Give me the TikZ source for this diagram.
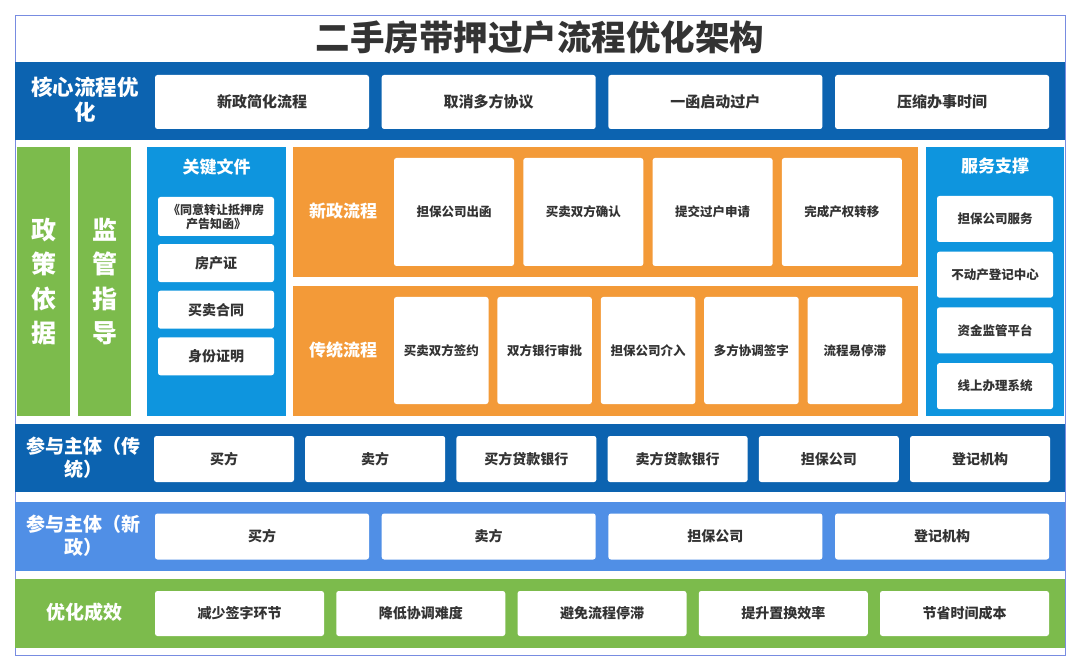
\documentclass[tikz,border=0pt]{standalone}
\usepackage{fontspec}
\setmainfont{Noto Sans CJK SC}
\usetikzlibrary{positioning}
\definecolor{deepblue}{RGB}{12,99,176}
\definecolor{skyblue}{RGB}{14,149,222}
\definecolor{newblue}{RGB}{80,143,230}
\definecolor{flowor}{RGB}{243,154,56}
\definecolor{leafgr}{RGB}{124,187,76}
\definecolor{rimblue}{RGB}{120,140,225}
\definecolor{ink}{RGB}{51,51,51}

\begin{document}
\begin{tikzpicture}[x=1pt, y=-1pt,
        band/.style={fill=#1, inner sep=0pt, outer sep=0pt},
        card/.style={fill=white, rounded corners=2.5pt, text=ink, inner sep=1pt, align=center,
                     font=\bfseries\fontsize{14}{17}\selectfont},
        lbl/.style={text=white, align=center, font=\bfseries\fontsize{19}{23}\selectfont},
        vlbl/.style={text=white, align=center, font=\bfseries\fontsize{25}{34.5}\selectfont},
        head/.style={text=white, font=\bfseries\fontsize{17}{20}\selectfont}]

    \useasboundingbox (0,0) rectangle (1080,671);
    \node[draw=rimblue, line width=0.8pt, minimum width=1050, minimum height=640, inner sep=0pt] (frame) at (540,335) {};
    \node[text=ink, font=\bfseries\fontsize{34.5}{40}\selectfont] (title) at (540,37.5) {二手房带押过户流程优化架构};

    % core row
    \node[band=deepblue, minimum width=1050, minimum height=78] (coreband) at (540,101) {};
    \node[lbl, font=\bfseries\fontsize{21.5}{25}\selectfont] (corelbl) at (85,100) {核心流程优\\化};
    \foreach \t [count=\i from 0] in {新政简化流程,取消多方协议,一函启动过户,压缩办事时间}
        \node[card, minimum width=214, minimum height=54, font=\bfseries\fontsize{15}{18}\selectfont] (core\i) at (262+226.7*\i,102) {\t};

    % middle part
    \node[band=leafgr, minimum width=53, minimum height=269] (policy) at (43.5,281.5) {};
    \node[vlbl] (policylbl) at (policy) {政\\策\\依\\据};
    \node[band=leafgr, minimum width=53, minimum height=269] (superv) at (104.5,281.5) {};
    \node[vlbl] (supervlbl) at (superv) {监\\管\\指\\导};

    \node[band=skyblue, minimum width=139, minimum height=269] (docs) at (216.5,281.5) {};
    \node[head] (docslbl) at (216.5,167) {关键文件};
    \node[card, minimum width=116, minimum height=39, font=\bfseries\fontsize{12}{14}\selectfont] (doc0) at (216,216.5) {《同意转让抵押房\\产告知函》};
    \foreach \t [count=\i] in {房产证,买卖合同,身份证明}
        \node[card, minimum width=116, minimum height=38] (doc\i) at (216,216.5+46.6*\i) {\t};

    \node[band=flowor, minimum width=625, minimum height=130] (newflow) at (605.5,212) {};
    \node[head] (newlbl) at (343,211) {新政流程};
    \foreach \t [count=\i from 0] in {担保公司出函,买卖双方确认,提交过户申请,完成产权转移}
        \node[card, minimum width=120, minimum height=108, font=\bfseries\fontsize{12.5}{15}\selectfont] (nf\i) at (454+129.3*\i,212) {\t};

    \node[band=flowor, minimum width=625, minimum height=130] (oldflow) at (605.5,351) {};
    \node[head] (oldlbl) at (343,350) {传统流程};
    \foreach \t [count=\i from 0] in {买卖双方签约,双方银行审批,担保公司介入,多方协调签字,流程易停滞}
        \node[card, minimum width=94.5, minimum height=107, font=\bfseries\fontsize{12.5}{15}\selectfont] (of\i) at (441.25+103.4*\i,350.5) {\t};

    \node[band=skyblue, minimum width=138, minimum height=269] (serv) at (995,281.5) {};
    \node[head] (servlbl) at (995,166) {服务支撑};
    \foreach \t [count=\i from 0] in {担保公司服务,不动产登记中心,资金监管平台,线上办理系统}
        \node[card, minimum width=116, minimum height=46, font=\bfseries\fontsize{12.5}{15}\selectfont] (sv\i) at (995,219+55.7*\i) {\t};

    % participants, traditional
    \node[band=deepblue, minimum width=1050, minimum height=68] (oldparty) at (540,458) {};
    \node[lbl] (oldpartylbl) at (84,458) {参与主体（传\\统）};
    \foreach \t [count=\i from 0] in {买方,卖方,买方贷款银行,卖方贷款银行,担保公司,登记机构}
        \node[card, minimum width=140, minimum height=46] (op\i) at (224+151.2*\i,459) {\t};

    % participants, new policy
    \node[band=newblue, minimum width=1050, minimum height=69] (newparty) at (540,536.5) {};
    \node[lbl] (newpartylbl) at (84,536) {参与主体（新\\政）};
    \foreach \t [count=\i from 0] in {买方,卖方,担保公司,登记机构}
        \node[card, minimum width=214, minimum height=46] (np\i) at (262+226.7*\i,536.5) {\t};

    % results
    \node[band=leafgr, minimum width=1050, minimum height=69] (gain) at (540,613.5) {};
    \node[lbl] (gainlbl) at (84,612) {优化成效};
    \foreach \t [count=\i from 0] in {减少签字环节,降低协调难度,避免流程停滞,提升置换效率,节省时间成本}
        \node[card, minimum width=169, minimum height=45] (gn\i) at (239.5+181.25*\i,613.5) {\t};
\end{tikzpicture}
\end{document}
